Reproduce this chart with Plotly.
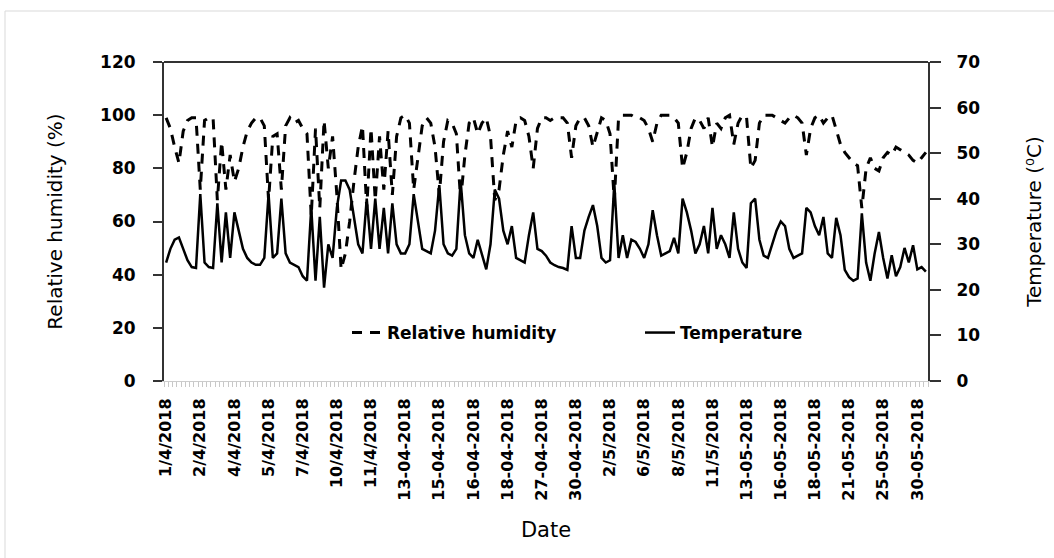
import plotly.graph_objects as go

# ---- data ----
tick_labels = ["1/4/2018", "2/4/2018", "4/4/2018", "5/4/2018", "7/4/2018", "10/4/2018",
               "11/4/2018", "13-04-2018", "15-04-2018", "16-04-2018", "18-04-2018",
               "27-04-2018", "30-04-2018", "2/5/2018", "6/5/2018", "8/5/2018", "11/5/2018",
               "13-05-2018", "16-05-2018", "18-05-2018", "21-05-2018", "25-05-2018", "30-05-2018"]

relative_humidity = [
    99, 95, 88, 82, 94, 98, 99, 99,
    72, 98, 99, 99, 68, 90, 72, 85,
    75, 80, 88, 94, 97, 99, 99, 96,
    68, 92, 93, 72, 96, 99, 97, 98,
    95, 93, 62, 95, 65, 98, 80, 92,
    70, 42, 48, 60, 75, 88, 96, 65,
    95, 68, 92, 72, 94, 70, 92, 99,
    100, 97, 72, 85, 96, 99, 97, 88,
    70, 90, 98, 97, 93, 68, 85, 97,
    99, 93, 97, 99, 92, 68, 72, 85,
    94, 88, 98, 99, 98, 92, 80, 95,
    99, 99, 98, 99, 99, 99, 97, 84,
    96, 99, 99, 96, 88, 94, 99, 98,
    93, 68, 99, 100, 100, 100, 99, 99,
    98, 95, 90, 97, 100, 100, 100, 99,
    97, 80, 86, 95, 99, 98, 95, 99,
    88, 97, 95, 99, 100, 89, 97, 100,
    99, 80, 83, 97, 100, 100, 100, 99,
    98, 97, 99, 100, 99, 97, 85, 95,
    99, 100, 97, 99, 100, 94, 89, 86,
    84, 82, 81, 65, 80, 84, 80, 79,
    84, 86, 85, 88, 87, 86, 85, 83,
    82, 84, 86,
]

temperature = [
    26, 29, 31, 31.5, 29, 26.5, 25, 24.8,
    41, 26, 25, 24.8, 39, 26, 37, 27,
    37, 33, 29, 27, 26, 25.5, 25.5, 27,
    41, 27, 28, 40, 28, 26, 25.5, 25,
    23, 22, 38, 22, 36, 20.5, 30, 27,
    38, 44, 44, 42, 36, 30, 28, 40,
    29, 40, 29, 38, 28, 39, 30, 28,
    28, 30, 41, 35, 29, 28.5, 28, 33,
    43, 30, 28, 27.5, 29, 44, 32, 28,
    27, 31, 28, 24.5, 30, 42, 40, 33,
    30, 34, 27, 26.5, 26, 32, 37, 29,
    28.5, 27.5, 26, 25.4, 25, 24.8, 24.4, 34,
    27, 27, 33, 36, 38.6, 34, 27, 26,
    26.5, 43.4, 27, 32, 27, 31, 30.5, 29,
    27, 30, 37.5, 32, 27.5, 28, 28.5, 31.4,
    28, 40, 37, 33, 28, 30, 34, 28,
    38, 29, 32, 30, 27, 37, 29, 26,
    24.8, 39, 40, 31, 27.5, 27, 30, 33,
    35, 34, 29, 27, 27.5, 28, 38, 37,
    34, 32, 36, 28, 27, 35.8, 32, 24.4,
    22.8, 22, 22.5, 36.8, 26, 22, 28, 32.7,
    27, 22.5, 27.6, 23, 25, 29.2, 26, 29.8,
    24.5, 25, 24,
]

rh_ticks = [0, 20, 40, 60, 80, 100, 120]
temp_ticks = [0, 10, 20, 30, 40, 50, 60, 70]

n = len(relative_humidity)
x_idx = list(range(n))
label_step = 8
tick_idx = list(range(0, n, label_step))[:len(tick_labels)]

# ---- layout geometry (pixels) ----
W, H = 1054, 558
L, R, T, B = 164, 928, 62, 381
pw, ph = R - L, B - T

def px(xp):
    return (xp - L) / pw

def py(yp):
    return (B - yp) / ph

FONT = "DejaVu Sans"
AX = "#333333"

fig = go.Figure()
fig.add_trace(go.Scatter(
    x=x_idx, y=relative_humidity, name="Relative humidity", mode="lines",
    line=dict(color="black", width=3, dash="10px,8px"), legend="legend", showlegend=True))
fig.add_trace(go.Scatter(
    x=x_idx, y=temperature, name="Temperature", mode="lines",
    line=dict(color="black", width=2.5), yaxis="y2", legend="legend2", showlegend=True))

fig.update_layout(
    width=W, height=H, showlegend=True,
    margin=dict(l=L, r=W - R, t=T, b=H - B, pad=0),
    paper_bgcolor="white", plot_bgcolor="white",
    font=dict(family=FONT, color="black"),
    xaxis=dict(
        range=[-0.5, n - 0.5], tickmode="array", tickvals=tick_idx, ticktext=tick_labels,
        tickangle=-90, tickfont=dict(size=16, weight="bold"), ticks="",
        showline=True, linecolor="#cccccc", linewidth=1, showgrid=False, zeroline=False,
        minor=dict(tickmode="linear", tick0=-0.5, dtick=1, ticks="outside", ticklen=5,
                   tickcolor="#c8c8c8", tickwidth=1, showgrid=False),
        ticklabelstandoff=10,
        title=dict(text="Date", font=dict(size=21), standoff=22),
    ),
    yaxis=dict(
        range=[0, 120], tickmode="array", tickvals=rh_ticks, ticks="outside", ticklen=9,
        tickwidth=1.5, tickcolor=AX, showline=True, linecolor=AX, linewidth=2,
        showgrid=False, zeroline=False, tickfont=dict(size=17, weight="bold"),
        ticklabelstandoff=14,
        title=dict(text="Relative humidity (%)", font=dict(size=20), standoff=32),
    ),
    yaxis2=dict(
        overlaying="y", side="right", range=[0, 70], tickmode="array", tickvals=temp_ticks,
        ticks="outside", ticklen=11, tickwidth=1.5, tickcolor=AX, showline=True,
        linecolor=AX, linewidth=2, showgrid=False, zeroline=False,
        tickfont=dict(size=17, weight="bold"), ticklabelstandoff=12,
        title=dict(text="Temperature (⁰C)", font=dict(size=20), standoff=48),
    ),
    legend=dict(x=px(347), y=py(333), xanchor="left", yanchor="middle", orientation="h",
                font=dict(size=17, weight="bold"), bgcolor="rgba(0,0,0,0)"),
    legend2=dict(x=px(640), y=py(333), xanchor="left", yanchor="middle", orientation="h",
                 font=dict(size=17, weight="bold"), bgcolor="rgba(0,0,0,0)"),
    shapes=[
        dict(type="rect", xref="paper", yref="paper", x0=px(5), x1=px(1075),
             y0=py(580), y1=py(11), line=dict(color="#d9d9d9", width=1),
             fillcolor="rgba(0,0,0,0)", layer="below"),
        dict(type="line", xref="paper", yref="paper", x0=0, x1=1, y0=1, y1=1,
             line=dict(color=AX, width=2)),
    ],
)

fig.write_html("out.html")
